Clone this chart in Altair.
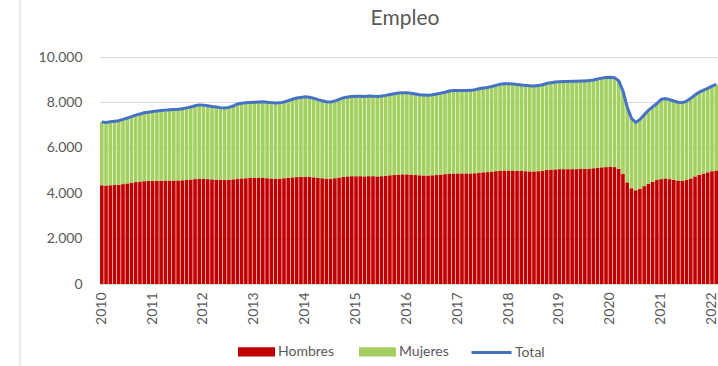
import altair as alt
import pandas as pd

# Monthly employment (thousands), Jan 2010 .. Feb 2022
total = [
    7140, 7120, 7150, 7170, 7190, 7250, 7310, 7370, 7440, 7490, 7540, 7570,  # 2010
    7600, 7620, 7640, 7660, 7680, 7690, 7700, 7720, 7760, 7800, 7850, 7890,  # 2011
    7880, 7850, 7820, 7800, 7770, 7750, 7780, 7840, 7930, 7960, 7980, 8000,  # 2012
    8010, 8020, 8030, 8010, 7990, 7970, 7980, 8020, 8080, 8140, 8190, 8220,  # 2013
    8250, 8230, 8180, 8120, 8070, 8030, 8020, 8060, 8130, 8200, 8240, 8260,  # 2014
    8270, 8270, 8260, 8280, 8270, 8260, 8280, 8310, 8350, 8380, 8410, 8430,  # 2015
    8420, 8400, 8370, 8340, 8330, 8320, 8340, 8370, 8410, 8450, 8500, 8520,  # 2016
    8520, 8520, 8520, 8530, 8560, 8600, 8630, 8660, 8700, 8750, 8800, 8820,  # 2017
    8820, 8810, 8790, 8770, 8750, 8730, 8720, 8740, 8780, 8830, 8870, 8900,  # 2018
    8910, 8920, 8920, 8930, 8930, 8940, 8940, 8960, 8990, 9030, 9070, 9100,  # 2019
    9110, 9090, 8950, 8500, 7800, 7300, 7120, 7250, 7450, 7650, 7800, 7950,  # 2020
    8130, 8170, 8120, 8060, 8010, 7990, 8050, 8180, 8330, 8450, 8540, 8620,  # 2021
    8720, 8790,                                                              # 2022
]
hombres = [
    4350, 4340, 4350, 4360, 4370, 4400, 4430, 4460, 4490, 4510, 4530, 4540,
    4540, 4550, 4550, 4560, 4560, 4560, 4560, 4570, 4580, 4600, 4620, 4630,
    4630, 4620, 4610, 4600, 4590, 4580, 4590, 4610, 4640, 4650, 4660, 4670,
    4670, 4670, 4670, 4660, 4650, 4640, 4640, 4660, 4680, 4700, 4710, 4720,
    4730, 4720, 4700, 4680, 4660, 4640, 4640, 4660, 4690, 4720, 4740, 4750,
    4750, 4750, 4740, 4750, 4750, 4740, 4750, 4770, 4790, 4800, 4820, 4830,
    4830, 4820, 4800, 4790, 4780, 4780, 4790, 4800, 4820, 4840, 4860, 4870,
    4870, 4870, 4870, 4870, 4880, 4900, 4920, 4930, 4950, 4970, 4990, 5000,
    5000, 5000, 4990, 4980, 4970, 4960, 4960, 4970, 4990, 5020, 5040, 5050,
    5060, 5060, 5060, 5060, 5060, 5070, 5070, 5080, 5100, 5120, 5140, 5150,
    5160, 5150, 5080, 4850, 4480, 4220, 4130, 4200, 4310, 4420, 4500, 4580,
    4620, 4650, 4620, 4590, 4560, 4550, 4580, 4650, 4740, 4810, 4870, 4920,
    4970, 5000,
]
years = list(range(2010, 2023))
meses = [f"{y}-{m:02d}" for y in years for m in range(1, 13)][: len(total)]
series = ["Hombres", "Mujeres"]
bar_colors = ["#c00000", "#a4d062"]
y_ticks = [0, 2000, 4000, 6000, 8000, 10000]

rows = []
for mes, t, h in zip(meses, total, hombres):
    rows.append({"mes": mes, "sexo": "Hombres", "valor": h, "orden": 0})
    rows.append({"mes": mes, "sexo": "Mujeres", "valor": t - h, "orden": 1})
bars_df = pd.DataFrame(rows)
line_df = pd.DataFrame({"mes": meses, "valor": total, "serie": ["Total"] * len(meses)})

FONT = "Lato"
GRAY = "#595959"

x_enc = alt.X(
    "mes:O",
    scale=alt.Scale(paddingInner=0.15, paddingOuter=0),
    axis=alt.Axis(
        title=None,
        labelAngle=-90,
        labelExpr="substring(datum.value,5,7)=='01' ? substring(datum.value,0,4) : ''",
        ticks=False,
        labelOverlap=False,
        labelPadding=8,
        domainColor="#d9d9d9",
        labelFontSize=14,
        labelColor=GRAY,
        labelFont=FONT,
    ),
)

bars = alt.Chart(bars_df).mark_bar().encode(
    x=x_enc,
    y=alt.Y(
        "valor:Q",
        stack="zero",
        scale=alt.Scale(domain=[0, 10000]),
        axis=alt.Axis(
            title=None,
            values=y_ticks,
            labelExpr="replace(format(datum.value, ','), ',', '.')",
            domain=False,
            ticks=False,
            gridColor="#d9d9d9",
            labelPadding=18,
            labelFontSize=14,
            labelColor=GRAY,
            labelFont=FONT,
        ),
    ),
    color=alt.Color(
        "sexo:N",
        scale=alt.Scale(domain=series, range=bar_colors),
        legend=alt.Legend(
            title=None,
            orient="none",
            direction="horizontal",
            legendX=138,
            legendY=276,
            padding=0,
            symbolType="M-1,-0.25H1V0.25H-1Z",
            symbolSize=1369,
            symbolStrokeWidth=0,
            symbolOpacity=1,
            labelOffset=3,
            columnPadding=24,
            labelFontSize=14,
            labelColor=GRAY,
            labelFont=FONT,
        ),
    ),
    order=alt.Order("orden:Q"),
)

line = alt.Chart(line_df).mark_line(strokeWidth=3).encode(
    x=alt.X("mes:O"),
    y=alt.Y("valor:Q"),
    stroke=alt.Stroke(
        "serie:N",
        scale=alt.Scale(domain=["Total"], range=["#4472c4"]),
        legend=alt.Legend(
            title=None,
            orient="none",
            direction="horizontal",
            legendX=370,
            legendY=274,
            padding=0,
            symbolType="stroke",
            symbolSize=1600,
            symbolStrokeWidth=3,
            labelOffset=2,
            labelFontSize=14,
            labelColor=GRAY,
            labelFont=FONT,
        ),
    ),
)

border = alt.Chart(pd.DataFrame({"a": [0]})).mark_rule(color="#d9d9d9", strokeWidth=1).encode(
    x=alt.value(-80), y=alt.value(-57), y2=alt.value(309)
)

chart = (
    alt.layer(bars, line, border)
    .properties(
        width=618,
        height=227,
        title=alt.TitleParams(
            "Empleo", fontSize=21, font=FONT, color=GRAY, fontWeight="normal",
            anchor="middle", frame="group", dx=-4, dy=56, offset=27,
        ),
        autosize=alt.AutoSizeParams(type="none"),
        padding={"left": 100, "top": 57, "right": 0, "bottom": 82},
        background="white",
    )
    .configure_view(stroke=None)
)

chart.save("out.html", embed_options={"renderer": "svg", "actions": False})
